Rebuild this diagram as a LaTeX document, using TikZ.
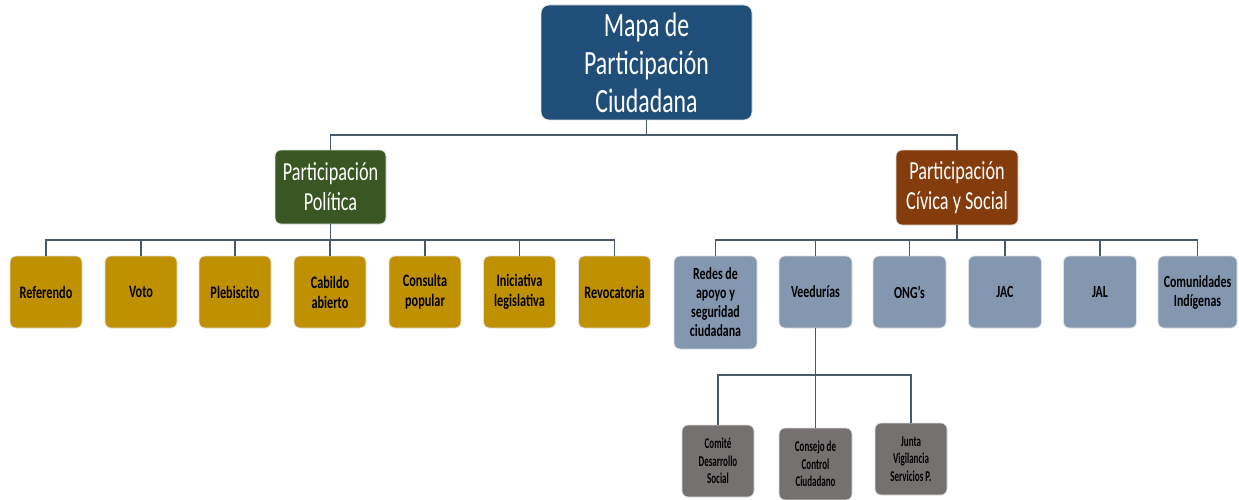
\documentclass[tikz,border=0pt]{standalone}
\usepackage{fontspec}
\setmainfont{Carlito}[FakeStretch=0.7]
\newfontfamily\grayfont{Carlito}[FakeStretch=0.6]
\definecolor{ctop}{HTML}{1F4E79}
\definecolor{cgreen}{HTML}{385723}
\definecolor{cbrown}{HTML}{843C0C}
\definecolor{cgold}{HTML}{BF9000}
\definecolor{cblue}{HTML}{8497B0}
\definecolor{cgray}{HTML}{767171}
\definecolor{cline}{HTML}{4A586C}
\tikzset{
  box/.style={rounded corners=6pt, draw=black!12, line width=0.8pt, inner sep=0pt, align=center},
  topbox/.style={box, fill=ctop, text=white, minimum width=211pt, minimum height=115pt, rounded corners=8pt, font=\fontsize{34}{38}\selectfont},
  midbox/.style={box, text=white, minimum height=74pt, font=\fontsize{26}{30}\selectfont},
  goldbox/.style={box, fill=cgold, minimum width=72pt, minimum height=72pt, font=\fontsize{17.5}{20}\selectfont\bfseries},
  bluebox/.style={box, fill=cblue, minimum width=73pt, minimum height=72pt, font=\fontsize{17}{19}\selectfont\bfseries},
  graybox/.style={box, fill=cgray, minimum width=72pt, minimum height=72pt, font=\grayfont\fontsize{15}{17.5}\selectfont\bfseries},
  conn/.style={draw=cline, line width=1.7pt}
}
\begin{document}
\begin{tikzpicture}[x=1pt,y=-1pt]
\path[use as bounding box] (0,0) rectangle (1239,500);
\coordinate (b1) at (0,135);
\coordinate (b2) at (0,240);
\coordinate (b3) at (0,375);

\node[topbox] (top) at (646.5,62.5) {Mapa de\\Participación\\Ciudadana};
\node[midbox, fill=cgreen, minimum width=111pt] (pp) at (330.5,187) {Participación\\Política};
\node[midbox, fill=cbrown, minimum width=122pt, minimum height=75pt] (pc) at (957,187.5) {Participación\\Cívica y Social};

\node[goldbox] (g1) at (46,292) {Referendo};
\node[goldbox] (g2) at (141,292) {Voto};
\node[goldbox] (g3) at (235,292) {Plebiscito};
\node[goldbox] (g4) at (330,292) {Cabildo\\abierto};
\node[goldbox] (g5) at (425,292) {Consulta\\popular};
\node[goldbox] (g6) at (519.5,292) {Iniciativa\\legislativa};
\node[goldbox] (g7) at (614.5,292) {Revocatoria};

\node[bluebox, minimum width=83pt, minimum height=93pt] (c1) at (715.5,302.5) {Redes de\\apoyo y\\seguridad\\ciudadana};
\node[bluebox] (c2) at (815.5,292) {Veedurías};
\node[bluebox] (c3) at (909.5,292) {ONG’s};
\node[bluebox] (c4) at (1005,292) {JAC};
\node[bluebox] (c5) at (1100,292) {JAL};
\node[bluebox, minimum width=79pt] (c6) at (1197.5,292) {Comunidades\\Indígenas};

\node[graybox] (v1) at (718,461) {Comité\\Desarrollo\\Social};
\node[graybox, minimum width=73pt] (v2) at (815.5,464) {Consejo de\\Control\\Ciudadano};
\node[graybox] (v3) at (911,459) {Junta\\Vigilancia\\Servicios P.};

\draw[conn] (top.south) -- (top.south |- b1) -| (pp.north);
\draw[conn] (top.south |- b1) -| (pc.north);

\draw[conn] (pp.south) -- (pp.south |- b2);
\foreach \n in {g1,g2,g3,g4,g5,g6,g7}{
  \draw[conn] (pp.south |- b2) -| (\n.north);
}
\draw[conn] (pc.south) -- (pc.south |- b2);
\foreach \n in {c1,c2,c3,c4,c5,c6}{
  \draw[conn] (pc.south |- b2) -| (\n.north);
}
\draw[conn] (c2.south) -- (c2.south |- b3);
\foreach \n in {v1,v2,v3}{
  \draw[conn] (c2.south |- b3) -| (\n.north);
}
\end{tikzpicture}
\end{document}
